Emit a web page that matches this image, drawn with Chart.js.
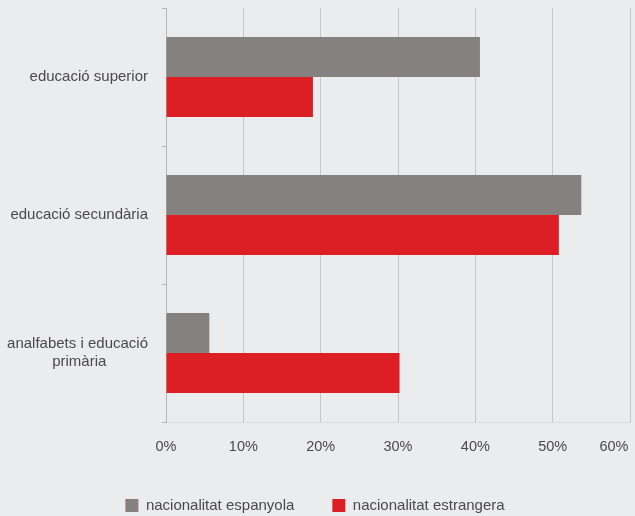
<!DOCTYPE html>
<html>
<head>
<meta charset="utf-8">
<script src="https://cdn.jsdelivr.net/npm/chart.js@4"></script>
<style>
  html, body { margin: 0; padding: 0; background: #ebecee; }
  #wrap { width: 635px; height: 516px; }
</style>
</head>
<body>
<div id="wrap"><canvas id="barChart"></canvas></div>
<script>
var categories = [['educació superior'], ['educació secundària'], ['analfabets i educació', 'primària']];
var espanyola = [40.6, 53.7, 5.6];
var estrangera = [19.0, 50.8, 30.2];
var seriesNames = ['nacionalitat espanyola', 'nacionalitat estrangera'];
var xMax = 60;
var xStep = 10;

var labelFont = '15px "Liberation Sans", Arial, sans-serif';
var measureCtx = document.createElement('canvas').getContext('2d');
measureCtx.font = labelFont;

// right-aligned axis labels, but wrapped lines centred under each other
function centreLines(lines) {
  if (!Array.isArray(lines) || lines.length < 2) return lines;
  var widths = lines.map(function (l) { return measureCtx.measureText(l).width; });
  var widest = Math.max.apply(null, widths);
  var space = measureCtx.measureText(' ').width;
  return lines.map(function (l, i) {
    var n = Math.round((widest - widths[i]) / 2 / space);
    return l + ' '.repeat(n);
  });
}

var ctx = document.getElementById('barChart');

var myChart = new Chart(ctx, {
    type: 'bar',
    data: {
      labels: categories,
      datasets: [{
        label: seriesNames[0],
        data: espanyola,
        backgroundColor: '#85817f',
        borderWidth: 0
      }, {
        label: seriesNames[1],
        data: estrangera,
        backgroundColor: '#dd1f25',
        borderWidth: 0
      }]
    },
    options: {
      indexAxis: 'y',
      responsive: true,
      maintainAspectRatio: false,
      animation: false,
      categoryPercentage: 0.58,
      barPercentage: 1.0,
      layout: {
        padding: { top: 8, right: 5, left: 0, bottom: 0 }
      },
      plugins: {
        tooltip: { enabled: false },
        legend: {
          position: 'bottom',
          maxHeight: 56,
          labels: {
            boxWidth: 13,
            boxHeight: 13,
            padding: 38,
            color: '#4a4a4a',
            font: { family: 'Liberation Sans, Arial, sans-serif', size: 15 }
          }
        }
      },
      scales: {
        x: {
          min: 0,
          max: xMax,
          ticks: {
            stepSize: xStep,
            padding: 16,
            color: '#4a4a4a',
            font: { family: 'Liberation Sans, Arial, sans-serif', size: 14.5 },
            callback: function (value, index, ticks) {
              // last label sits inside the plot edge, as in the original
              return value + '%' + (index === ticks.length - 1 ? '        ' : '');
            }
          },
          grid: { color: '#c6c6c6', drawTicks: false },
          border: { display: true, color: '#d9d9d9' },
          afterFit: function (scale) {
            scale.height = 38;
            scale.paddingRight = 0;
          }
        },
        y: {
          ticks: {
            padding: 14,
            color: '#4a4a4a',
            font: { family: 'Liberation Sans, Arial, sans-serif', size: 15 },
            callback: function (value) {
              return centreLines(this.getLabelForValue(value));
            }
          },
          grid: { drawOnChartArea: false, drawTicks: true, tickLength: 4, color: '#b5b5b5' },
          border: { display: true, color: '#b5b5b5' },
          afterFit: function (scale) {
            scale.width = 166;
            scale.paddingTop = 0;
            scale.paddingBottom = 0;
          }
        }
      }
    }
  });
</script>
</body>
</html>
